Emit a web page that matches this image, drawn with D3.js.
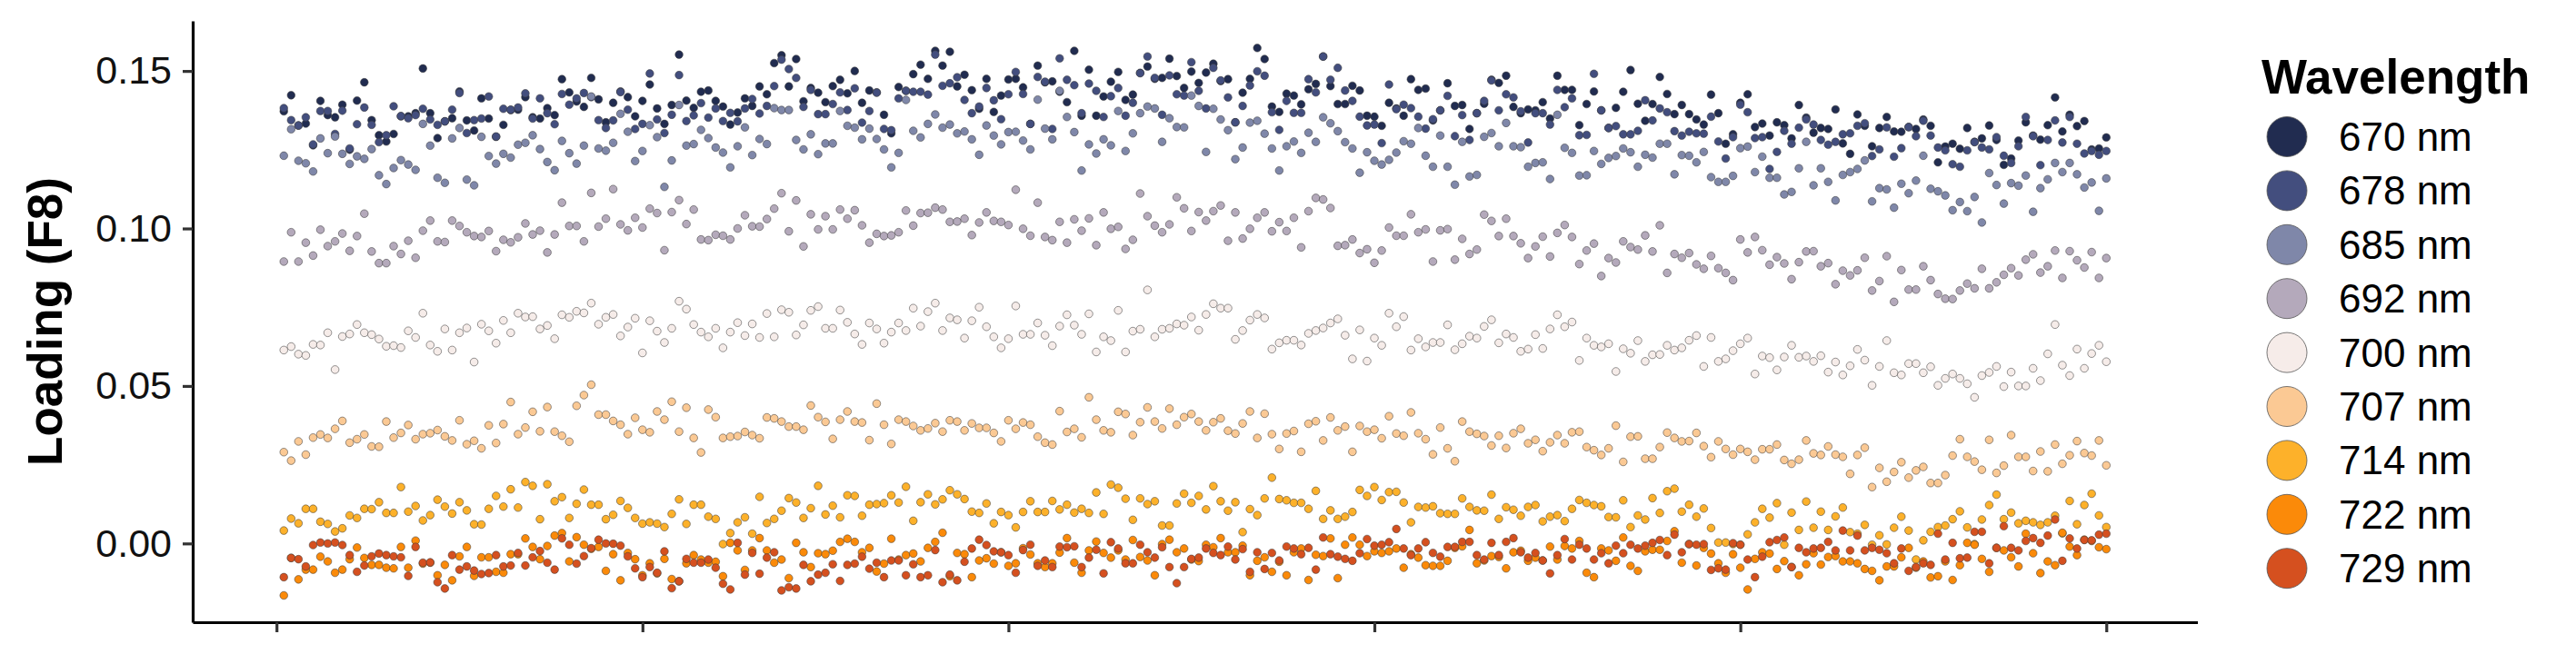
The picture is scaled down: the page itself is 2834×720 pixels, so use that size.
<!DOCTYPE html>
<html><head><meta charset="utf-8">
<script src="https://cdn.jsdelivr.net/npm/d3@7"></script>
<style>html,body{margin:0;padding:0;background:#fff;} svg{display:block;font-family:"Liberation Sans",Arial,Helvetica,sans-serif;}</style>
</head><body><svg id="chart" width="2834" height="720"></svg>
<script>
const wavelengths = ["670 nm","678 nm","685 nm","692 nm","700 nm","707 nm","714 nm","722 nm","729 nm"];
const palette = ["#212c50","#434e7e","#7f87a9","#b4a9bb","#f6ece9","#fbc994","#fdb12a","#fb8a09","#d5501f"];
const xTicks = [0,50,100,150,200,250];
const yTicks = [0.00,0.05,0.10,0.15];

const loading670 = [0.1372,0.1423,0.1327,0.1333,0.1264,0.1405,0.1360,0.1353,0.1393,0.1250,0.1406,0.1464,0.1344,0.1296,0.1276,0.1300,0.1356,0.1356,0.1366,0.1508,0.1366,0.1287,0.1340,0.1350,0.1435,0.1343,0.1311,0.1413,0.1349,0.1291,0.1329,0.1376,0.1377,0.1417,0.1353,0.1349,0.1382,0.1360,0.1474,0.1432,0.1403,0.1386,0.1478,0.1410,0.1337,0.1399,0.1435,0.1417,0.1356,
0.1405,0.1457,0.1381,0.1332,0.1392,0.1552,0.1406,0.1383,0.1434,0.1438,0.1405,0.1387,0.1330,0.1368,0.1413,0.1389,0.1451,0.1426,0.1525,0.1550,0.1451,0.1538,0.1404,0.1446,0.1431,0.1401,0.1452,0.1472,0.1429,0.1500,0.1399,0.1438,0.1432,
0.1361,0.1302,0.1449,0.1437,0.1490,0.1520,0.1475,0.1564,0.1517,0.1561,0.1451,0.1488,0.1439,0.1380,0.1475,0.1370,0.1422,0.1473,0.1475,0.1448,0.1332,0.1517,0.1464,0.1467,0.1434,0.1401,0.1564,0.1358,0.1504,0.1358,0.1419,0.1466,0.1497,0.1408,
0.1425,0.1494,0.1514,0.1475,0.1478,0.1539,0.1484,0.1446,0.1498,0.1462,0.1495,0.1523,0.1468,0.1474,0.1337,0.1431,0.1475,0.1573,0.1538,0.1387,0.1370,0.1428,0.1422,0.1394,0.1442,0.1459,0.1546,0.1452,0.1395,0.1395,0.1453,0.1438,0.1358,
0.1355,0.1326,0.1399,0.1381,0.1358,0.1474,0.1440,0.1444,0.1343,0.1375,0.1461,0.1389,0.1392,0.1316,0.1366,0.1396,0.1472,0.1462,0.1485,0.1386,0.1366,0.1378,0.1375,0.1401,0.1349,0.1485,0.1440,0.1440,0.1328,0.1395,0.1435,0.1375,0.1319,0.1383,
0.1434,0.1503,0.1396,0.1342,0.1395,0.1481,0.1427,0.1363,0.1392,0.1363,0.1346,0.1330,0.1425,0.1366,0.1269,0.1299,0.1399,0.1426,0.1322,0.1333,0.1295,0.1337,0.1328,0.1286,0.1392,0.1352,0.1304,0.1319,0.1316,0.1378,0.1270,0.1237,0.1362,
0.1326,0.1261,0.1319,0.1354,0.1308,0.1307,0.1322,0.1316,0.1346,0.1326,0.1210,0.1260,0.1269,0.1253,0.1319,0.1275,0.1286,0.1327,0.1281,0.1202,0.1222,0.1279,0.1337,0.1295,0.1282,0.1328,0.1416,0.1308,0.1361,0.1325,0.1341,0.1251,0.1254,0.1289];

const loading678 = [0.1382,0.1344,0.1327,0.1353,0.1267,0.1373,0.1373,0.1300,0.1374,0.1254,0.1331,0.1384,0.1329,0.1274,0.1296,0.1388,0.1357,0.1350,0.1360,0.1380,0.1346,0.1329,0.1340,0.1377,0.1430,0.1303,0.1344,0.1349,0.1419,0.1292,0.1380,0.1377,0.1384,0.1429,0.1349,0.1413,0.1366,0.1331,0.1427,0.1393,0.1413,0.1430,0.1417,0.1344,0.1319,0.1343,0.1433,0.1377,0.1316,
0.1332,0.1492,0.1346,0.1303,0.1361,0.1487,0.1341,0.1359,0.1398,0.1352,0.1381,0.1341,0.1367,0.1340,0.1381,0.1411,0.1365,0.1389,0.1452,0.1536,0.1506,0.1478,0.1386,0.1440,0.1363,0.1363,0.1395,0.1432,0.1376,0.1445,0.1336,0.1373,0.1431,
0.1316,0.1312,0.1413,0.1437,0.1434,0.1434,0.1425,0.1552,0.1453,0.1461,0.1480,0.1408,0.1366,0.1387,0.1446,0.1407,0.1347,0.1426,0.1497,0.1427,0.1332,0.1481,0.1466,0.1316,0.1540,0.1472,0.1455,0.1366,0.1460,0.1437,0.1354,0.1420,0.1446,0.1358,
0.1399,0.1493,0.1546,0.1478,0.1361,0.1486,0.1426,0.1422,0.1528,0.1437,0.1381,0.1510,0.1470,0.1416,0.1337,0.1389,0.1454,0.1499,0.1485,0.1369,0.1313,0.1405,0.1367,0.1367,0.1474,0.1432,0.1546,0.1472,0.1510,0.1438,0.1405,0.1355,0.1327,
0.1330,0.1271,0.1457,0.1379,0.1393,0.1382,0.1355,0.1317,0.1347,0.1375,0.1421,0.1293,0.1360,0.1281,0.1366,0.1405,0.1470,0.1375,0.1426,0.1416,0.1372,0.1273,0.1366,0.1366,0.1330,0.1440,0.1385,0.1413,0.1296,0.1297,0.1491,0.1375,0.1319,0.1325,
0.1299,0.1299,0.1310,0.1407,0.1343,0.1381,0.1369,0.1309,0.1295,0.1307,0.1302,0.1301,0.1355,0.1276,0.1222,0.1290,0.1393,0.1369,0.1287,0.1290,0.1189,0.1243,0.1310,0.1269,0.1320,0.1346,0.1330,0.1281,0.1266,0.1275,0.1299,0.1302,0.1326,
0.1334,0.1230,0.1251,0.1321,0.1228,0.1255,0.1322,0.1293,0.1342,0.1295,0.1257,0.1248,0.1204,0.1196,0.1248,0.1274,0.1257,0.1251,0.1290,0.1231,0.1208,0.1261,0.1354,0.1293,0.1201,0.1281,0.1343,0.1273,0.1354,0.1269,0.1238,0.1246,0.1234,0.1246];

const loading685 = [0.1231,0.1315,0.1215,0.1207,0.1181,0.1286,0.1239,0.1292,0.1237,0.1205,0.1229,0.1221,0.1252,0.1169,0.1141,0.1192,0.1217,0.1203,0.1186,0.1332,0.1263,0.1161,0.1145,0.1286,0.1319,0.1155,0.1137,0.1291,0.1230,0.1206,0.1237,0.1225,0.1266,0.1272,0.1296,0.1252,0.1211,0.1185,0.1278,0.1239,0.1206,0.1263,0.1419,0.1254,0.1247,0.1272,0.1364,0.1307,0.1214,
0.1246,0.1328,0.1290,0.1132,0.1216,0.1392,0.1263,0.1268,0.1313,0.1287,0.1257,0.1241,0.1194,0.1261,0.1321,0.1233,0.1284,0.1268,0.1382,0.1376,0.1376,0.1281,0.1251,0.1299,0.1236,0.1270,0.1270,0.1373,0.1326,0.1320,0.1283,0.1317,0.1284,
0.1251,0.1194,0.1240,0.1408,0.1310,0.1289,0.1332,0.1362,0.1320,0.1330,0.1302,0.1308,0.1283,0.1234,0.1327,0.1295,0.1267,0.1306,0.1307,0.1279,0.1251,0.1409,0.1317,0.1283,0.1437,0.1354,0.1306,0.1184,0.1267,0.1238,0.1283,0.1264,0.1373,0.1246,
0.1302,0.1366,0.1387,0.1381,0.1275,0.1350,0.1322,0.1321,0.1422,0.1389,0.1243,0.1380,0.1346,0.1312,0.1220,0.1257,0.1336,0.1342,0.1301,0.1254,0.1184,0.1261,0.1276,0.1240,0.1304,0.1275,0.1353,0.1334,0.1309,0.1274,0.1254,0.1177,0.1242,
0.1215,0.1203,0.1218,0.1241,0.1277,0.1269,0.1319,0.1231,0.1196,0.1295,0.1196,0.1139,0.1275,0.1165,0.1170,0.1291,0.1303,0.1261,0.1335,0.1261,0.1258,0.1196,0.1208,0.1210,0.1157,0.1361,0.1256,0.1240,0.1168,0.1169,0.1246,0.1205,0.1224,0.1230,
0.1254,0.1242,0.1196,0.1234,0.1225,0.1269,0.1269,0.1172,0.1233,0.1231,0.1210,0.1243,0.1163,0.1148,0.1148,0.1167,0.1255,0.1260,0.1179,0.1228,0.1161,0.1161,0.1108,0.1116,0.1191,0.1275,0.1137,0.1191,0.1148,0.1089,0.1170,0.1179,0.1189,
0.1216,0.1086,0.1128,0.1124,0.1066,0.1142,0.1112,0.1152,0.1231,0.1126,0.1118,0.1105,0.1058,0.1084,0.1055,0.1100,0.1019,0.1176,0.1138,0.1079,0.1144,0.1136,0.1168,0.1053,0.1128,0.1156,0.1208,0.1179,0.1208,0.1172,0.1130,0.1146,0.1056,0.1159];

const loading692 = [0.0895,0.0988,0.0895,0.0955,0.0914,0.0996,0.0944,0.0959,0.0984,0.0929,0.0976,0.1047,0.0927,0.0890,0.0890,0.0944,0.0919,0.0961,0.0907,0.0993,0.1025,0.0959,0.0957,0.1025,0.1008,0.0988,0.0976,0.0973,0.0992,0.0928,0.0964,0.0956,0.0972,0.1016,0.0981,0.0993,0.0924,0.0981,0.1082,0.1008,0.1008,0.0959,0.1113,0.1006,0.1031,0.1125,0.1013,0.0994,0.1034,
0.1003,0.1063,0.1049,0.0931,0.1052,0.1090,0.1014,0.1060,0.0965,0.0963,0.0980,0.0977,0.0965,0.1000,0.1042,0.1007,0.1006,0.1030,0.1063,0.1112,0.0991,0.1089,0.0943,0.1045,0.0997,0.1039,0.0997,0.1060,0.1031,0.1058,0.1010,0.0955,0.0983,
0.0976,0.0978,0.0988,0.1057,0.1009,0.1049,0.1050,0.1066,0.1060,0.1021,0.1022,0.1031,0.0979,0.1019,0.1051,0.1024,0.1021,0.1011,0.1123,0.0999,0.0977,0.1082,0.0973,0.0963,0.1021,0.0955,0.1029,0.0993,0.1032,0.0947,0.1051,0.0999,0.1005,0.0935,
0.0964,0.1111,0.1039,0.1009,0.0988,0.1013,0.1099,0.1064,0.0992,0.1052,0.1025,0.1055,0.1073,0.0961,0.1051,0.0968,0.0999,0.1034,0.1051,0.0991,0.1020,0.0992,0.1034,0.0940,0.1055,0.1097,0.1092,0.1065,0.0945,0.0947,0.0965,0.0922,0.0934,
0.0891,0.0930,0.1003,0.0977,0.0977,0.1045,0.0988,0.0997,0.0895,0.0994,0.0998,0.0901,0.0967,0.0919,0.0933,0.1044,0.1024,0.0976,0.1031,0.0976,0.0953,0.0906,0.0943,0.0974,0.0911,0.0986,0.1011,0.0973,0.0887,0.0930,0.0952,0.0849,0.0906,0.0892,
0.0959,0.0941,0.0933,0.0978,0.0927,0.1010,0.0859,0.0919,0.0907,0.0922,0.0886,0.0872,0.0913,0.0874,0.0859,0.0836,0.0965,0.0924,0.0973,0.0931,0.0885,0.0909,0.0889,0.0839,0.0893,0.0927,0.0928,0.0880,0.0890,0.0823,0.0866,0.0851,0.0867,
0.0907,0.0803,0.0833,0.0912,0.0767,0.0868,0.0806,0.0806,0.0880,0.0836,0.0792,0.0777,0.0776,0.0803,0.0825,0.0810,0.0872,0.0810,0.0829,0.0853,0.0874,0.0851,0.0901,0.0918,0.0860,0.0880,0.0930,0.0843,0.0928,0.0899,0.0876,0.0925,0.0843,0.0906];

const loading700 = [0.0614,0.0625,0.0601,0.0597,0.0632,0.0630,0.0669,0.0552,0.0657,0.0665,0.0695,0.0669,0.0663,0.0649,0.0626,0.0628,0.0622,0.0675,0.0654,0.0731,0.0630,0.0610,0.0681,0.0614,0.0669,0.0684,0.0576,0.0696,0.0675,0.0636,0.0708,0.0669,0.0731,0.0719,0.0720,0.0681,0.0692,0.0650,0.0726,0.0718,0.0737,0.0732,0.0763,0.0696,0.0718,0.0727,0.0659,0.0687,0.0715,
0.0605,0.0707,0.0674,0.0638,0.0683,0.0769,0.0744,0.0695,0.0671,0.0656,0.0683,0.0621,0.0671,0.0701,0.0660,0.0697,0.0654,0.0730,0.0656,0.0742,0.0734,0.0662,0.0694,0.0740,0.0752,0.0683,0.0683,0.0741,0.0702,0.0665,0.0632,0.0700,0.0681,
0.0636,0.0671,0.0700,0.0676,0.0747,0.0690,0.0736,0.0763,0.0676,0.0716,0.0710,0.0652,0.0707,0.0750,0.0688,0.0656,0.0621,0.0650,0.0754,0.0664,0.0664,0.0700,0.0661,0.0628,0.0690,0.0726,0.0693,0.0664,0.0729,0.0608,0.0656,0.0644,0.0740,0.0608,
0.0674,0.0680,0.0805,0.0656,0.0680,0.0683,0.0697,0.0693,0.0719,0.0677,0.0727,0.0761,0.0747,0.0747,0.0648,0.0676,0.0709,0.0727,0.0716,0.0617,0.0637,0.0645,0.0645,0.0630,0.0667,0.0676,0.0684,0.0700,0.0713,0.0661,0.0586,0.0678,0.0579,
0.0652,0.0629,0.0731,0.0688,0.0720,0.0614,0.0650,0.0624,0.0638,0.0638,0.0694,0.0615,0.0634,0.0658,0.0652,0.0689,0.0710,0.0637,0.0665,0.0654,0.0610,0.0617,0.0663,0.0619,0.0681,0.0726,0.0688,0.0703,0.0581,0.0652,0.0629,0.0624,0.0634,0.0546,
0.0618,0.0604,0.0644,0.0578,0.0599,0.0600,0.0629,0.0614,0.0621,0.0645,0.0660,0.0562,0.0654,0.0578,0.0586,0.0612,0.0634,0.0652,0.0538,0.0595,0.0590,0.0551,0.0592,0.0629,0.0591,0.0595,0.0578,0.0596,0.0544,0.0576,0.0535,0.0564,0.0616,
0.0582,0.0502,0.0562,0.0644,0.0542,0.0535,0.0571,0.0571,0.0542,0.0561,0.0502,0.0524,0.0538,0.0524,0.0507,0.0464,0.0533,0.0543,0.0562,0.0498,0.0544,0.0500,0.0500,0.0556,0.0517,0.0602,0.0695,0.0566,0.0533,0.0617,0.0556,0.0603,0.0629,0.0577];

const loading707 = [0.0290,0.0263,0.0324,0.0282,0.0336,0.0346,0.0335,0.0364,0.0389,0.0320,0.0331,0.0346,0.0308,0.0307,0.0387,0.0336,0.0351,0.0376,0.0331,0.0347,0.0350,0.0360,0.0340,0.0327,0.0391,0.0315,0.0326,0.0302,0.0375,0.0319,0.0379,0.0449,0.0347,0.0368,0.0418,0.0356,0.0433,0.0355,0.0342,0.0323,0.0437,0.0471,0.0504,0.0409,0.0409,0.0389,0.0377,0.0347,0.0399,
0.0361,0.0353,0.0419,0.0393,0.0450,0.0355,0.0431,0.0335,0.0289,0.0425,0.0401,0.0335,0.0339,0.0341,0.0354,0.0344,0.0334,0.0400,0.0397,0.0387,0.0371,0.0371,0.0361,0.0438,0.0401,0.0386,0.0332,0.0393,0.0419,0.0387,0.0384,0.0328,0.0444,
0.0377,0.0316,0.0393,0.0387,0.0373,0.0359,0.0365,0.0382,0.0355,0.0391,0.0387,0.0359,0.0381,0.0367,0.0367,0.0351,0.0324,0.0391,0.0364,0.0384,0.0377,0.0339,0.0320,0.0314,0.0420,0.0354,0.0364,0.0337,0.0464,0.0393,0.0359,0.0353,0.0418,0.0411,
0.0344,0.0385,0.0432,0.0387,0.0365,0.0428,0.0377,0.0401,0.0411,0.0387,0.0359,0.0385,0.0397,0.0358,0.0349,0.0381,0.0419,0.0335,0.0412,0.0347,0.0300,0.0349,0.0357,0.0291,0.0380,0.0388,0.0327,0.0400,0.0359,0.0371,0.0291,0.0373,0.0355,
0.0361,0.0334,0.0404,0.0349,0.0342,0.0416,0.0350,0.0331,0.0283,0.0368,0.0302,0.0261,0.0387,0.0355,0.0348,0.0341,0.0311,0.0342,0.0303,0.0350,0.0364,0.0318,0.0329,0.0293,0.0321,0.0344,0.0318,0.0353,0.0355,0.0306,0.0296,0.0281,0.0302,0.0374,
0.0259,0.0339,0.0340,0.0269,0.0269,0.0306,0.0352,0.0335,0.0324,0.0325,0.0351,0.0309,0.0274,0.0324,0.0300,0.0282,0.0300,0.0291,0.0266,0.0299,0.0299,0.0314,0.0265,0.0253,0.0266,0.0327,0.0286,0.0281,0.0308,0.0282,0.0275,0.0221,0.0281,
0.0304,0.0179,0.0240,0.0196,0.0227,0.0258,0.0209,0.0232,0.0243,0.0192,0.0192,0.0217,0.0279,0.0331,0.0275,0.0260,0.0234,0.0329,0.0224,0.0247,0.0344,0.0275,0.0275,0.0230,0.0292,0.0229,0.0314,0.0253,0.0280,0.0325,0.0287,0.0279,0.0327,0.0248];

const loading714 = [0.0041,0.0079,0.0064,0.0110,0.0110,0.0069,0.0062,0.0038,0.0048,0.0089,0.0081,0.0110,0.0109,0.0131,0.0097,0.0097,0.0179,0.0101,0.0119,0.0073,0.0090,0.0139,0.0117,0.0095,0.0131,0.0105,0.0061,0.0060,0.0110,0.0151,0.0117,0.0172,0.0114,0.0195,0.0183,0.0077,0.0188,0.0134,0.0147,0.0081,0.0126,0.0171,0.0123,0.0123,0.0077,0.0091,0.0135,0.0113,0.0081,
0.0063,0.0067,0.0063,0.0052,0.0094,0.0140,0.0062,0.0123,0.0123,0.0085,0.0078,-0.0002,0.0033,0.0067,0.0083,0.0031,0.0148,0.0065,0.0078,0.0104,0.0144,0.0130,0.0081,0.0112,0.0183,0.0092,0.0120,0.0083,0.0153,0.0151,0.0088,0.0123,0.0125,
0.0128,0.0153,0.0130,0.0180,0.0072,0.0131,0.0156,0.0124,0.0140,0.0169,0.0156,0.0141,0.0101,0.0097,0.0127,0.0064,0.0100,0.0090,0.0051,0.0100,0.0134,0.0100,0.0100,0.0135,0.0108,0.0123,0.0098,0.0110,0.0097,0.0162,0.0094,0.0187,0.0177,0.0142,
0.0075,0.0143,0.0125,0.0134,0.0057,0.0057,0.0127,0.0158,0.0129,0.0151,0.0108,0.0182,0.0134,0.0104,0.0131,0.0036,0.0109,0.0090,0.0143,0.0209,0.0141,0.0137,0.0129,0.0129,0.0110,0.0167,0.0078,0.0105,0.0078,0.0085,0.0100,0.0170,0.0151,
0.0179,0.0138,0.0163,0.0164,0.0130,0.0067,0.0116,0.0114,0.0118,0.0096,0.0094,0.0094,0.0143,0.0116,0.0105,0.0104,0.0155,0.0078,0.0115,0.0107,0.0088,0.0116,0.0122,0.0070,0.0085,0.0090,0.0071,0.0110,0.0138,0.0129,0.0122,0.0118,0.0084,0.0083,
0.0137,0.0052,0.0089,0.0076,0.0144,0.0097,0.0166,0.0174,0.0101,0.0123,0.0085,0.0111,0.0049,0.0003,0.0003,-0.0002,-0.0004,0.0029,0.0067,0.0110,0.0082,0.0128,-0.0004,0.0098,0.0043,0.0133,0.0050,0.0101,0.0043,0.0086,0.0114,0.0036,0.0031,
0.0059,-0.0004,0.0026,-0.0003,0.0050,0.0085,0.0041,-0.0051,0.0010,0.0037,0.0052,0.0057,0.0077,0.0102,0.0051,-0.0002,0.0076,0.0122,0.0155,0.0077,0.0098,0.0064,0.0072,0.0067,0.0059,0.0067,0.0088,0.0032,0.0135,0.0061,0.0122,0.0158,0.0089,0.0052];

const loading722 = [-0.0165,-0.0046,-0.0114,-0.0083,-0.0083,-0.0042,-0.0057,-0.0093,-0.0083,-0.0050,-0.0013,-0.0046,-0.0068,-0.0068,-0.0077,-0.0079,-0.0011,-0.0077,0.0009,-0.0064,-0.0061,-0.0101,-0.0068,-0.0117,-0.0041,-0.0011,-0.0103,-0.0044,-0.0044,-0.0090,-0.0093,-0.0034,-0.0034,0.0016,-0.0011,-0.0050,-0.0008,0.0025,0.0033,-0.0057,0.0020,-0.0004,-0.0017,-0.0011,-0.0087,-0.0034,-0.0117,-0.0030,-0.0050,
-0.0101,-0.0063,-0.0095,-0.0049,-0.0113,-0.0120,-0.0063,-0.0037,-0.0051,-0.0061,-0.0058,-0.0104,0.0002,-0.0022,-0.0084,-0.0022,0.0017,-0.0022,-0.0061,-0.0051,-0.0110,0.0002,-0.0028,-0.0075,-0.0031,-0.0034,-0.0023,0.0005,0.0015,0.0005,-0.0028,-0.0014,-0.0089,
-0.0064,0.0015,-0.0051,-0.0037,-0.0032,-0.0057,-0.0014,0.0005,0.0034,-0.0104,-0.0030,-0.0034,-0.0107,-0.0054,-0.0047,-0.0064,-0.0028,-0.0071,-0.0063,-0.0015,-0.0035,-0.0063,-0.0075,-0.0063,-0.0029,0.0017,-0.0061,-0.0093,-0.0022,0.0006,-0.0030,-0.0045,-0.0022,-0.0051,
0.0011,-0.0043,-0.0054,-0.0101,-0.0002,0.0012,-0.0028,-0.0016,-0.0051,-0.0056,-0.0004,-0.0012,0.0017,-0.0028,-0.0028,-0.0007,-0.0101,-0.0055,-0.0044,-0.0090,-0.0058,-0.0101,-0.0028,-0.0016,-0.0116,-0.0036,-0.0040,0.0016,-0.0110,-0.0004,0.0019,-0.0004,-0.0040,
-0.0025,-0.0030,-0.0025,-0.0016,-0.0077,-0.0034,-0.0045,-0.0069,-0.0071,-0.0071,-0.0055,-0.0014,-0.0009,0.0043,-0.0063,-0.0054,-0.0040,-0.0043,-0.0079,-0.0028,-0.0023,-0.0055,-0.0045,-0.0054,-0.0010,-0.0051,-0.0008,-0.0016,0.0008,-0.0093,-0.0107,-0.0016,-0.0022,-0.0055,
0.0019,-0.0071,-0.0087,-0.0025,-0.0020,-0.0020,0.0008,0.0039,-0.0061,-0.0002,-0.0070,-0.0014,-0.0032,-0.0063,-0.0093,-0.0034,-0.0077,-0.0146,-0.0049,-0.0028,-0.0032,-0.0081,-0.0056,-0.0075,-0.0101,-0.0066,-0.0031,-0.0067,-0.0043,-0.0040,-0.0057,-0.0057,-0.0063,
-0.0081,-0.0087,-0.0117,-0.0073,-0.0073,-0.0044,-0.0014,-0.0077,-0.0057,-0.0108,-0.0104,-0.0057,-0.0116,-0.0069,0.0002,-0.0004,-0.0049,-0.0090,-0.0014,-0.0022,-0.0044,-0.0073,0.0031,-0.0031,-0.0094,-0.0057,-0.0069,0.0034,-0.0010,-0.0037,0.0012,0.0008,-0.0012,-0.0018];

const loading729 = [-0.0107,-0.0046,-0.0050,-0.0073,-0.0005,0.0003,0.0000,0.0003,-0.0005,-0.0037,-0.0090,-0.0070,-0.0041,-0.0032,-0.0037,-0.0041,-0.0044,-0.0103,-0.0011,-0.0061,-0.0060,-0.0123,-0.0143,-0.0037,-0.0083,-0.0073,-0.0086,-0.0097,-0.0094,-0.0037,-0.0073,-0.0070,-0.0030,-0.0070,-0.0044,-0.0024,-0.0061,-0.0083,0.0016,-0.0004,-0.0064,-0.0040,-0.0015,0.0012,0.0000,-0.0001,-0.0007,-0.0041,-0.0079,
-0.0107,-0.0075,-0.0093,-0.0025,-0.0142,-0.0120,-0.0049,-0.0061,-0.0061,-0.0051,-0.0077,-0.0128,-0.0146,0.0002,-0.0099,-0.0030,-0.0096,-0.0045,-0.0028,-0.0149,-0.0139,-0.0143,-0.0068,-0.0120,-0.0099,-0.0093,-0.0066,-0.0119,-0.0068,-0.0064,-0.0042,-0.0080,-0.0061,
-0.0107,-0.0054,-0.0054,-0.0101,-0.0066,-0.0107,-0.0101,-0.0021,-0.0123,-0.0099,-0.0117,-0.0058,-0.0016,0.0012,-0.0005,-0.0025,-0.0028,-0.0037,-0.0093,-0.0021,-0.0004,-0.0071,-0.0054,-0.0075,-0.0010,-0.0012,-0.0009,-0.0075,-0.0045,-0.0020,-0.0095,0.0004,-0.0016,-0.0063,
-0.0063,-0.0004,-0.0028,-0.0045,-0.0012,-0.0075,-0.0126,-0.0075,-0.0049,-0.0045,-0.0016,-0.0030,-0.0037,-0.0010,-0.0051,-0.0018,-0.0090,-0.0028,-0.0081,-0.0030,-0.0054,-0.0010,-0.0016,-0.0034,-0.0014,-0.0083,0.0019,-0.0034,-0.0042,-0.0049,-0.0055,-0.0031,0.0014,
-0.0007,-0.0004,0.0004,0.0046,-0.0016,-0.0037,-0.0016,0.0004,-0.0030,-0.0042,-0.0011,-0.0011,0.0005,0.0005,-0.0037,-0.0051,0.0002,-0.0037,0.0005,0.0017,-0.0028,-0.0045,-0.0030,-0.0054,-0.0095,-0.0037,0.0014,-0.0051,-0.0004,-0.0016,-0.0051,-0.0031,-0.0063,-0.0007,
-0.0031,-0.0004,-0.0016,-0.0007,0.0002,0.0011,-0.0037,0.0028,-0.0028,-0.0002,-0.0004,-0.0002,-0.0084,-0.0079,-0.0083,0.0001,-0.0004,-0.0051,-0.0107,-0.0042,0.0004,0.0011,0.0019,-0.0075,-0.0014,-0.0028,-0.0016,-0.0014,0.0005,-0.0022,0.0041,-0.0022,0.0025,
-0.0022,-0.0014,-0.0020,-0.0031,-0.0063,-0.0016,-0.0087,-0.0075,-0.0063,-0.0068,0.0031,-0.0051,0.0002,-0.0047,-0.0045,0.0037,0.0037,-0.0063,-0.0014,0.0055,-0.0014,-0.0022,0.0008,0.0017,0.0002,0.0025,0.0076,-0.0055,0.0016,-0.0016,0.0011,0.0010,0.0028,0.0031];

const seriesValues = [loading670, loading678, loading685, loading692, loading700, loading707, loading714, loading722, loading729];

const svg = d3.select("#chart");
const x = d3.scaleLinear().domain([-11.45, 262.45]).range([212, 2417.5]);
const y = d3.scaleLinear().domain([-0.0250, 0.1659]).range([685, 23]);
const color = d3.scaleOrdinal().domain(wavelengths).range(palette);

// points
const pts = [];
seriesValues.forEach((vals, s) => vals.forEach((v, i) => pts.push({s: wavelengths[s], idx: i + 1, v})));
svg.append("g").selectAll("circle").data(pts).join("circle")
  .attr("cx", d => x(d.idx)).attr("cy", d => y(d.v)).attr("r", 4.3)
  .attr("fill", d => color(d.s)).attr("stroke", "#3c3c3c").attr("stroke-width", 0.55);

// axes
const yAxis = d3.axisLeft(y).tickValues(yTicks).tickFormat(d3.format(".2f")).tickSize(11).tickSizeOuter(0).tickPadding(12);
const gy = svg.append("g").attr("transform", "translate(212,0)").call(yAxis);
gy.select(".domain").attr("stroke", "#000").attr("stroke-width", 3.2);
gy.selectAll(".tick line").attr("stroke", "#333").attr("stroke-width", 3.2);
gy.selectAll(".tick text").attr("font-size", 43).attr("fill", "#111").attr("font-family", "Liberation Sans, Arial, sans-serif");

const xAxis = d3.axisBottom(x).tickValues(xTicks).tickFormat("").tickSize(11).tickSizeOuter(0);
const gx = svg.append("g").attr("transform", "translate(0,685)").call(xAxis);
gx.select(".domain").attr("stroke", "#000").attr("stroke-width", 3.2);
gx.selectAll(".tick line").attr("stroke", "#333").attr("stroke-width", 3.2);

// y title
svg.append("text").attr("transform", "translate(49,354) rotate(-90)")
  .attr("text-anchor", "middle").attr("dominant-baseline", "central")
  .attr("font-size", 53).attr("font-weight", "bold").attr("fill", "#000").text("Loading (F8)");

// legend
const lg = svg.append("g");
lg.append("text").attr("x", 2488).attr("y", 103).attr("font-size", 53).attr("font-weight", "bold").attr("fill", "#000").text("Wavelength");
const items = lg.selectAll("g.item").data(wavelengths).join("g").attr("class", "item")
  .attr("transform", (d, i) => `translate(2516,${150.5 + i * 59.4})`);
items.append("circle").attr("r", 22).attr("fill", d => color(d)).attr("stroke", "#555").attr("stroke-width", 0.8);
items.append("text").attr("x", 57).attr("y", 0).attr("dominant-baseline", "central")
  .attr("font-size", 44).attr("fill", "#000").text(d => d);
</script></body></html>
